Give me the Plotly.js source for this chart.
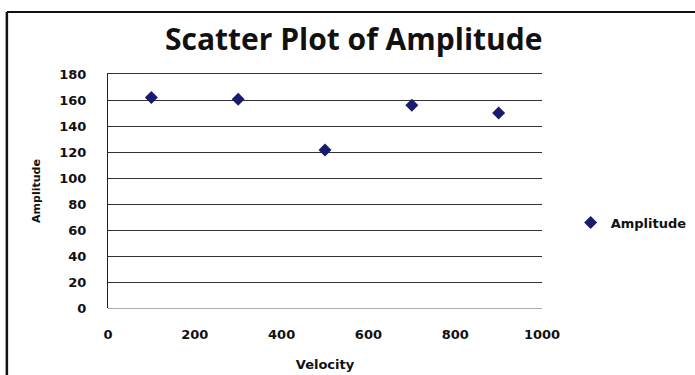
<!DOCTYPE html>
<html>
<head>
<meta charset="utf-8">
<script src="https://cdn.plot.ly/plotly-3.0.1.min.js"></script>
<style>
  html, body { margin: 0; padding: 0; background: #fff; }
  #chart { width: 695px; height: 375px; }
</style>
</head>
<body>
<div id="chart"></div>
<script>
// Data
const velocity = [100, 300, 500, 700, 900];
const amplitude = [162, 160.5, 121.5, 156, 150];
const seriesName = "Amplitude";
const xTicks = [0, 200, 400, 600, 800, 1000];
const yTicks = [0, 20, 40, 60, 80, 100, 120, 140, 160, 180];

const tickFont = { family: "DejaVu Sans", size: 13, color: "#111", weight: "bold" };

const trace = {
  type: "scatter",
  mode: "markers",
  x: velocity,
  y: amplitude,
  name: seriesName,
  showlegend: true,
  marker: { symbol: "diamond", size: 10, color: "#1a1a6e" }
};

const layout = {
  width: 695,
  height: 375,
  margin: { l: 108, r: 153, t: 74, b: 67, autoexpand: false },
  paper_bgcolor: "#fff",
  plot_bgcolor: "#fff",
  font: { family: "DejaVu Sans", color: "#111" },
  title: {
    text: "<b>Scatter Plot of Amplitude</b>",
    font: { family: "Open Sans", size: 30, color: "#111" },
    x: 0.509, xanchor: "center",
    y: 0.895, yref: "container", yanchor: "middle"
  },
  xaxis: {
    range: [0, 1000],
    tickvals: xTicks,
    ticktext: xTicks.map(String),
    tickfont: tickFont,
    showgrid: false,
    zeroline: false,
    showline: false,
    ticks: "",
    ticklabelstandoff: 17,
    title: { text: "<b>Velocity</b>", font: { family: "DejaVu Sans", size: 13, color: "#111" }, standoff: 18 }
  },
  xaxis2: {
    overlaying: "x",
    side: "top",
    range: [0, 1000],
    showline: true,
    linecolor: "#333",
    linewidth: 1,
    showgrid: false,
    zeroline: false,
    showticklabels: false,
    ticks: ""
  },
  yaxis: {
    range: [0, 180],
    tickvals: yTicks,
    ticktext: yTicks.map(String),
    tickfont: tickFont,
    showgrid: true,
    gridcolor: "#333",
    gridwidth: 1,
    zeroline: true,
    zerolinecolor: "#aaa",
    zerolinewidth: 1,
    showline: true,
    linecolor: "#222",
    linewidth: 1,
    ticks: "",
    ticklabelstandoff: 18,
    title: { text: "<b>Amplitude</b>", font: { family: "DejaVu Sans", size: 11, color: "#111" }, standoff: 16 }
  },
  legend: {
    x: 1.066, xanchor: "left",
    y: 0.365, yanchor: "middle",
    font: { family: "DejaVu Sans", size: 13, color: "#111", weight: "bold" },
    bgcolor: "rgba(0,0,0,0)",
    itemwidth: 30
  },
  shapes: [
    { type: "line", xref: "paper", yref: "paper", x0: -0.233, x1: 1.6, y0: 1.265, y1: 1.265, line: { color: "#111", width: 2 } },
    { type: "line", xref: "paper", yref: "paper", x0: -0.233, x1: -0.233, y0: 1.265, y1: -0.4, line: { color: "#111", width: 2.5 } }
  ]
};

// invisible helper trace to activate the top axis line
const topAxisTrace = {
  type: "scatter", mode: "markers", x: [], y: [], xaxis: "x2", yaxis: "y",
  showlegend: false, hoverinfo: "skip"
};

Plotly.newPlot("chart", [trace, topAxisTrace], layout, { displayModeBar: false, staticPlot: true });
</script>
</body>
</html>
